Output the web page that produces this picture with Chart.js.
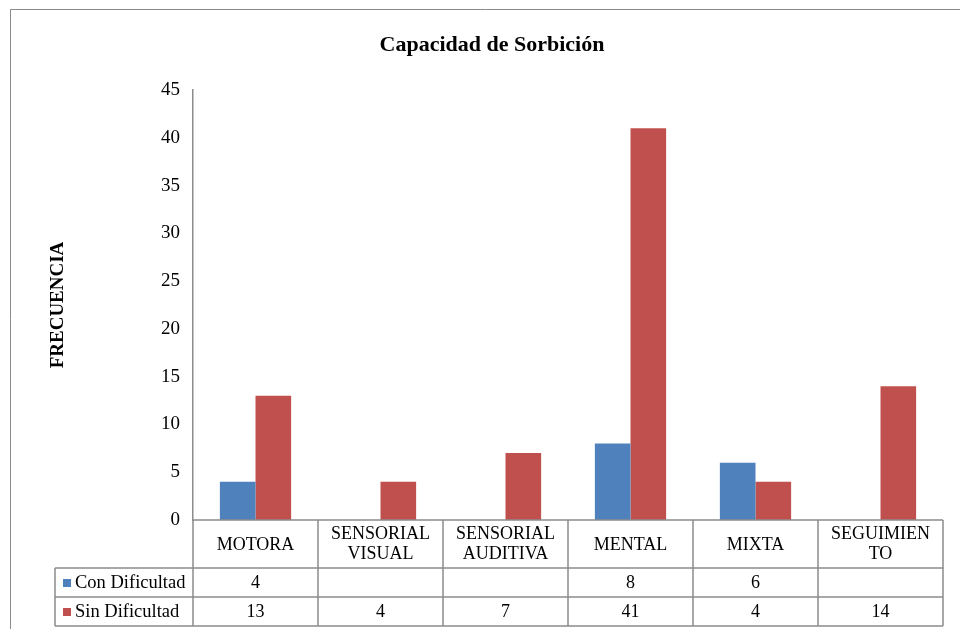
<!DOCTYPE html>
<html>
<head>
<meta charset="utf-8">
<script src="https://cdn.jsdelivr.net/npm/chart.js@4/dist/chart.umd.min.js"></script>
<style>
    body { margin: 0; background: #fff; }
    #wrap { width: 960px; height: 629px; }
</style>
</head>
<body>
<div id="wrap"><canvas id="myChart" width="960" height="629"></canvas></div>
<script>
var categorias = ['MOTORA', ['SENSORIAL', 'VISUAL'], ['SENSORIAL', 'AUDITIVA'], 'MENTAL', 'MIXTA', ['SEGUIMIEN', 'TO']];
var conDificultad = [4, null, null, 8, 6, null];
var sinDificultad = [13, 4, 7, 41, 4, 14];
var yTicks = [0, 5, 10, 15, 20, 25, 30, 35, 40, 45];

var titulo = 'Capacidad de Sorbición';
var tituloEje = 'FRECUENCIA';
var serie1 = 'Con Dificultad';
var serie2 = 'Sin Dificultad';

var azul = '#4F81BD';
var rojo = '#C0504D';
var gris = '#8C8C8C';
var serif = "'Liberation Serif', 'Times New Roman', serif";

// dibuja el marco, titulo, titulo del eje y la tabla de datos
var tablaPlugin = {
    id: 'tabla',
    afterDraw: function(chart) {
        var ctx = chart.ctx;
        var area = chart.chartArea;
        var xs = chart.scales.x;
        var n = categorias.length;
        var w = (area.right - area.left) / n;
        var r1 = area.bottom + 48;
        var r2 = r1 + 29;
        var r3 = r2 + 29;
        var leg = 55;

        ctx.save();

        // marco exterior
        ctx.strokeStyle = '#8A8A8A';
        ctx.lineWidth = 1;
        ctx.beginPath();
        ctx.moveTo(10.5, 640);
        ctx.lineTo(10.5, 9.5);
        ctx.lineTo(975, 9.5);
        ctx.stroke();

        // titulo
        ctx.fillStyle = '#000';
        ctx.font = 'bold 22px ' + serif;
        ctx.textAlign = 'center';
        ctx.textBaseline = 'middle';
        ctx.fillText(titulo, 492, 45);

        // titulo eje y
        ctx.save();
        ctx.translate(58, 305);
        ctx.rotate(-Math.PI / 2);
        ctx.font = 'bold 19px ' + serif;
        ctx.fillText(tituloEje, 0, 0);
        ctx.restore();

        // lineas de la tabla
        ctx.strokeStyle = gris;
        ctx.lineWidth = 1.5;
        ctx.beginPath();
        ctx.moveTo(area.left, area.bottom);
        ctx.lineTo(area.right, area.bottom);
        ctx.moveTo(leg, r1);
        ctx.lineTo(area.right, r1);
        ctx.moveTo(leg, r2);
        ctx.lineTo(area.right, r2);
        ctx.moveTo(leg, r3);
        ctx.lineTo(area.right, r3);
        ctx.moveTo(leg, r1);
        ctx.lineTo(leg, r3);
        for (var i = 0; i <= n; i++) {
            var x = Math.round(area.left + i * w);
            ctx.moveTo(x, area.bottom);
            ctx.lineTo(x, r3);
        }
        ctx.stroke();

        // textos
        ctx.fillStyle = '#000';
        ctx.font = '18px ' + serif;
        ctx.textAlign = 'center';
        for (var j = 0; j < n; j++) {
            var cx = xs.getPixelForValue(j);
            var lab = categorias[j];
            if (Array.isArray(lab)) {
                ctx.fillText(lab[0], cx, area.bottom + 14);
                ctx.fillText(lab[1], cx, area.bottom + 34);
            } else {
                ctx.fillText(lab, cx, area.bottom + 25);
            }
            if (conDificultad[j] !== null) {
                ctx.fillText(String(conDificultad[j]), cx, r1 + 15);
            }
            if (sinDificultad[j] !== null) {
                ctx.fillText(String(sinDificultad[j]), cx, r2 + 15);
            }
        }

        // leyenda dentro de la tabla
        ctx.textAlign = 'left';
        ctx.fillStyle = azul;
        ctx.fillRect(63, r1 + 11, 8, 8);
        ctx.fillStyle = rojo;
        ctx.fillRect(63, r2 + 11, 8, 8);
        ctx.fillStyle = '#000';
        ctx.font = '18.5px ' + serif;
        ctx.fillText(serie1, 75, r1 + 15);
        ctx.fillText(serie2, 75, r2 + 15);

        ctx.restore();
    }
};

var ctx = document.getElementById('myChart');
var myChart = new Chart(ctx, {
    type: 'bar',
    data: {
        labels: categorias,
        datasets: [{
            label: serie1,
            data: conDificultad,
            backgroundColor: azul,
            borderWidth: 0
        }, {
            label: serie2,
            data: sinDificultad,
            backgroundColor: rojo,
            borderWidth: 0
        }]
    },
    options: {
        responsive: false,
        animation: false,
        categoryPercentage: 0.57,
        barPercentage: 1,
        layout: {
            padding: { top: 90, bottom: 109, left: 133, right: 17 }
        },
        plugins: {
            legend: { display: false },
            title: { display: false },
            tooltip: { enabled: false }
        },
        scales: {
            x: {
                display: false
            },
            y: {
                min: 0,
                max: 45,
                afterFit: function(scale) { scale.width = 60; },
                afterBuildTicks: function(scale) {
                    scale.ticks = yTicks.map(function(v) { return { value: v }; });
                },
                grid: { display: false },
                border: { display: true, color: gris, width: 1.5 },
                ticks: {
                    color: '#000',
                    padding: 5,
                    font: { family: serif, size: 19 }
                }
            }
        }
    },
    plugins: [tablaPlugin]
});
</script>
</body>
</html>
